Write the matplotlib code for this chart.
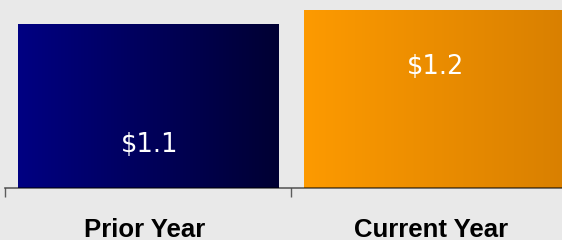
import numpy as np
import matplotlib.pyplot as plt
from matplotlib.colors import LinearSegmentedColormap

categories = ["Prior Year", "Current Year"]
values = [1.1, 1.2]
value_labels = ["$1.1", "$1.2"]
label_y = [0.29, 0.81]  # where the value text sits on each bar
gradients = [("#000082", "#000033"), ("#fd9a00", "#d98000")]

BG = "#e9e9e9"


def gradient_bar(ax, patch, colors):
    x0, y0 = patch.get_x(), patch.get_y()
    w, h = patch.get_width(), patch.get_height()
    cmap = LinearSegmentedColormap.from_list("g", list(colors))
    grad = np.linspace(0, 1, 256).reshape(1, -1)
    im = ax.imshow(grad, cmap=cmap, aspect="auto", extent=(x0, x0 + w, y0, y0 + h),
                   zorder=2, interpolation="bilinear")
    im.set_clip_path(patch)
    patch.set_visible(False)


fig = plt.figure(figsize=(5.62, 2.4), dpi=100, facecolor=BG)
ax = fig.add_axes([0, 0, 1, 1], facecolor=BG)

x = np.arange(len(categories))
bars = ax.bar(x, values, width=0.91, zorder=2)
for patch, cols in zip(bars, gradients):
    gradient_bar(ax, patch, cols)

for xi, ly, txt in zip(x, label_y, value_labels):
    ax.text(xi + 0.003, ly, txt, ha="center", va="center", color="white",
            fontsize=18.5, family="DejaVu Sans", zorder=4)

ax.set_xlim(-0.519, 1.446)
ax.set_ylim(-0.354, 1.265)

for s in ["top", "right", "left"]:
    ax.spines[s].set_visible(False)
ax.spines["bottom"].set_position(("data", 0))
ax.spines["bottom"].set_bounds(-0.5, 1.446)
ax.spines["bottom"].set_color((0, 0, 0, 0.6))
ax.spines["bottom"].set_linewidth(1.2)
ax.spines["bottom"].set_zorder(5)

ax.set_yticks([])
ax.set_xticks([-0.5, 0.5])
ax.set_xticklabels([])
ax.tick_params(axis="x", which="major", length=6.5, width=1.0,
               color=(0, 0, 0, 0.6), direction="out")
ax.set_xticks(x - 0.012, minor=True)
ax.set_xticklabels(categories, minor=True, fontsize=18.5, fontweight="bold",
                   family="Liberation Sans")
ax.tick_params(axis="x", which="minor", length=0, pad=22)

fig.savefig("out.png", dpi=100, facecolor=BG)
